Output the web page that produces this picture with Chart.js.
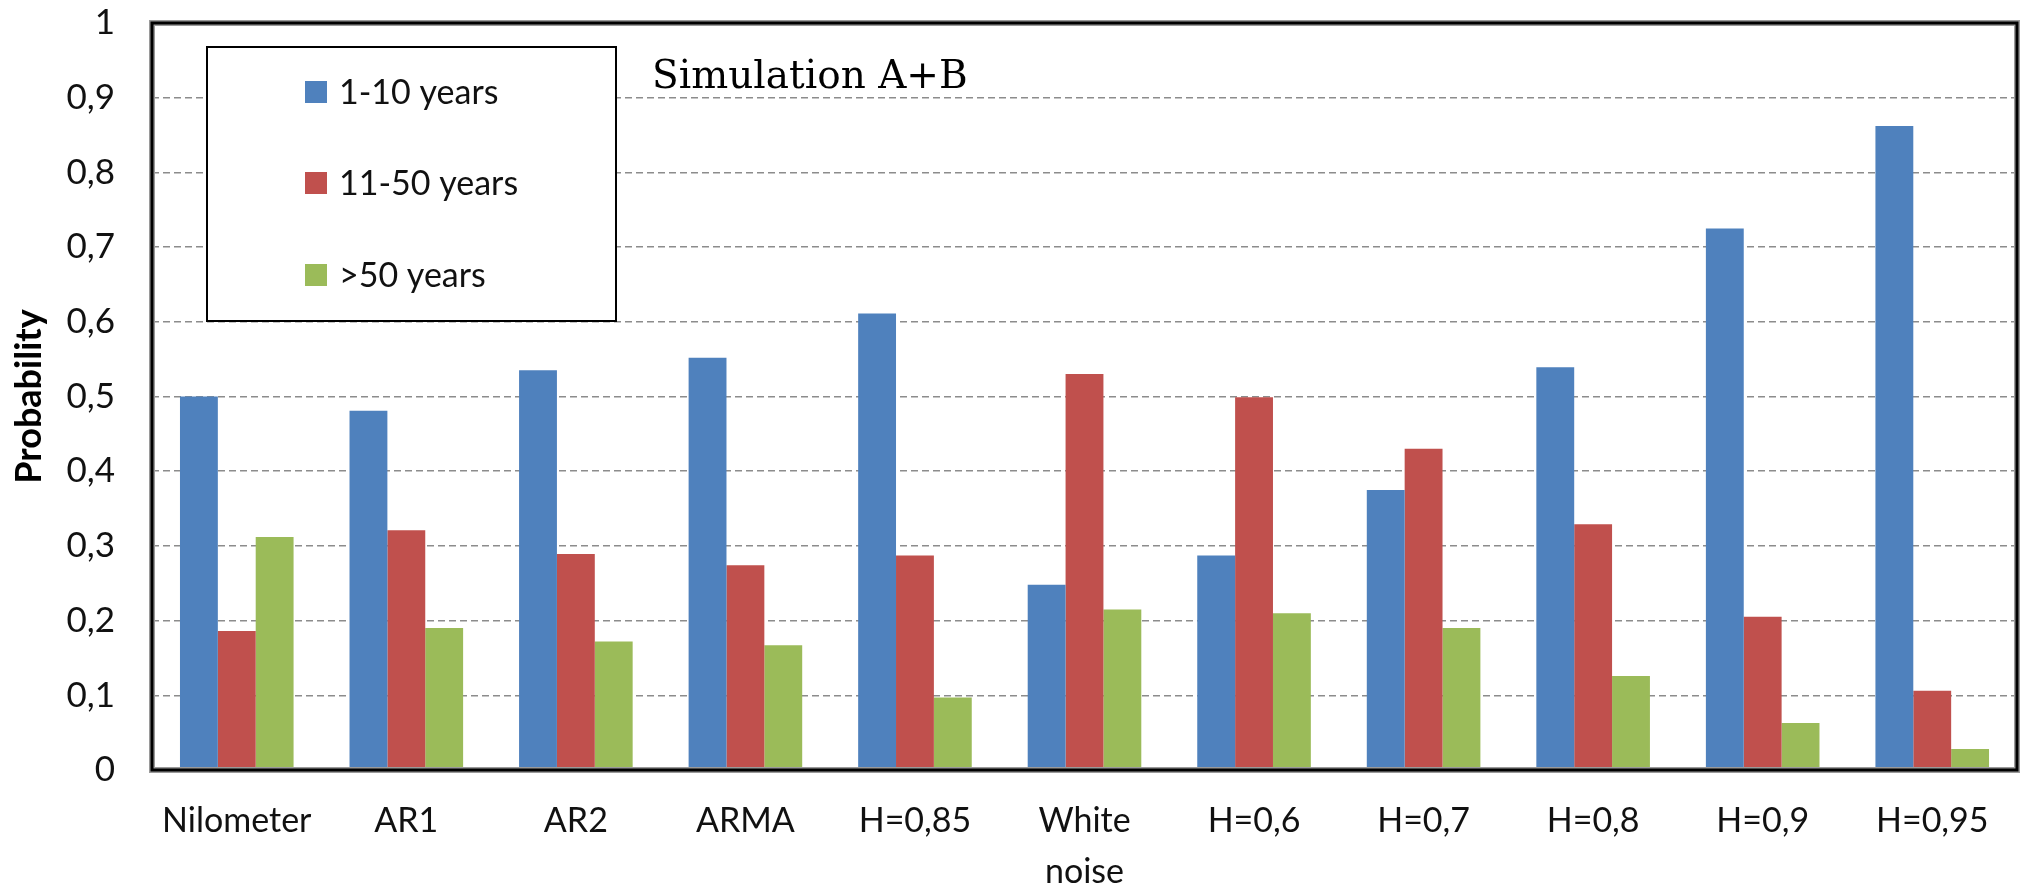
<!DOCTYPE html>
<html>
<head>
<meta charset="utf-8">
<script src="https://cdn.jsdelivr.net/npm/chart.js@4.4.0/dist/chart.umd.min.js"></script>
<style>
  html, body { margin: 0; padding: 0; background: #fff; }
  #wrap { width: 2023px; height: 885px; position: relative; }
</style>
</head>
<body>
<div id="wrap"><canvas id="chart" width="2023" height="885"></canvas></div>
<script>
// categories + series
const categories = ["Nilometer", "AR1", "AR2", "ARMA", "H=0,85", ["White", "noise"], "H=0,6", "H=0,7", "H=0,8", "H=0,9", "H=0,95"];
const seriesNames = ["1-10 years", "11-50 years", ">50 years"];
const short  = [0.500, 0.481, 0.535, 0.552, 0.611, 0.248, 0.287, 0.375, 0.539, 0.725, 0.862];
const medium = [0.186, 0.321, 0.289, 0.274, 0.287, 0.530, 0.499, 0.430, 0.329, 0.205, 0.106];
const long   = [0.312, 0.190, 0.172, 0.167, 0.097, 0.215, 0.210, 0.190, 0.126, 0.063, 0.028];
const yTicks = [0, 0.1, 0.2, 0.3, 0.4, 0.5, 0.6, 0.7, 0.8, 0.9, 1];
const colors = ["#4F81BD", "#C0504D", "#9BBB59"];

const fmtComma = (v) => String(Math.round(v * 10) / 10).replace(".", ",");

// box round the plot, legend box and the "Simulation A+B" note
const frameAndLegend = {
  id: "frameAndLegend",
  afterDraw(chart) {
    const { ctx, chartArea: a } = chart;
    ctx.save();
    // plot frame
    ctx.strokeStyle = "#9a9a9a";
    ctx.lineWidth = 6;
    ctx.strokeRect(a.left, a.top, a.right - a.left, a.bottom - a.top);
    ctx.strokeStyle = "#000";
    ctx.lineWidth = 3;
    ctx.strokeRect(a.left, a.top, a.right - a.left, a.bottom - a.top);

    // legend
    const lx = 207, ly = 47, lw = 409, lh = 274;
    ctx.fillStyle = "#fff";
    ctx.fillRect(lx, ly, lw, lh);
    ctx.strokeStyle = "#000";
    ctx.lineWidth = 2;
    ctx.strokeRect(lx, ly, lw, lh);
    const rows = [92, 183, 275];
    ctx.font = "34px Lato";
    ctx.textBaseline = "middle";
    chart.data.datasets.forEach((ds, i) => {
      ctx.fillStyle = ds.backgroundColor;
      ctx.fillRect(305, rows[i] - 11, 22, 22);
      ctx.fillStyle = "#111";
      ctx.fillText(ds.label, 339, rows[i] + 1);
    });

    // note
    ctx.font = "39px 'DejaVu Serif'";
    ctx.textBaseline = "alphabetic";
    ctx.fillStyle = "#000";
    ctx.fillText("Simulation A+B", 652, 88);
    ctx.restore();
  }
};

new Chart(document.getElementById("chart"), {
  type: "bar",
  data: {
    labels: categories,
    datasets: [short, medium, long].map((d, i) => ({
      label: seriesNames[i],
      data: d,
      backgroundColor: colors[i],
      borderWidth: 0,
      categoryPercentage: 0.67,
      barPercentage: 1.0
    }))
  },
  options: {
    responsive: false,
    animation: false,
    layout: { padding: { top: 23, right: 6, left: 0, bottom: 0 } },
    plugins: { legend: { display: false }, tooltip: { enabled: false } },
    scales: {
      x: {
        grid: { display: false, drawTicks: false },
        border: { display: false },
        ticks: {
          color: "#111",
          font: { family: "Lato", size: 34, lineHeight: 1.5 },
          padding: 26,
          maxRotation: 0,
          autoSkip: false
        },
        afterFit: (s) => { s.height = 115; s.paddingLeft = 0; s.paddingRight = 0; }
      },
      y: {
        min: 0,
        max: 1,
        afterBuildTicks: (s) => { s.ticks = yTicks.map(v => ({ value: v })); },
        grid: {
          color: "#8c8c8c",
          lineWidth: 1.5,
          drawTicks: false
        },
        border: { display: false, dash: [7, 4] },
        ticks: {
          color: "#111",
          font: { family: "Lato", size: 35 },
          padding: 37,
          callback: (v) => fmtComma(v)
        },
        title: {
          display: true,
          text: "Probability",
          color: "#000",
          font: { family: "Lato", size: 36, weight: "bold" },
          padding: { top: 8, bottom: 0 }
        },
        afterFit: (s) => { s.width = 152; s.paddingTop = 0; s.paddingBottom = 0; }
      }
    }
  },
  plugins: [frameAndLegend]
});
</script>
</body>
</html>
